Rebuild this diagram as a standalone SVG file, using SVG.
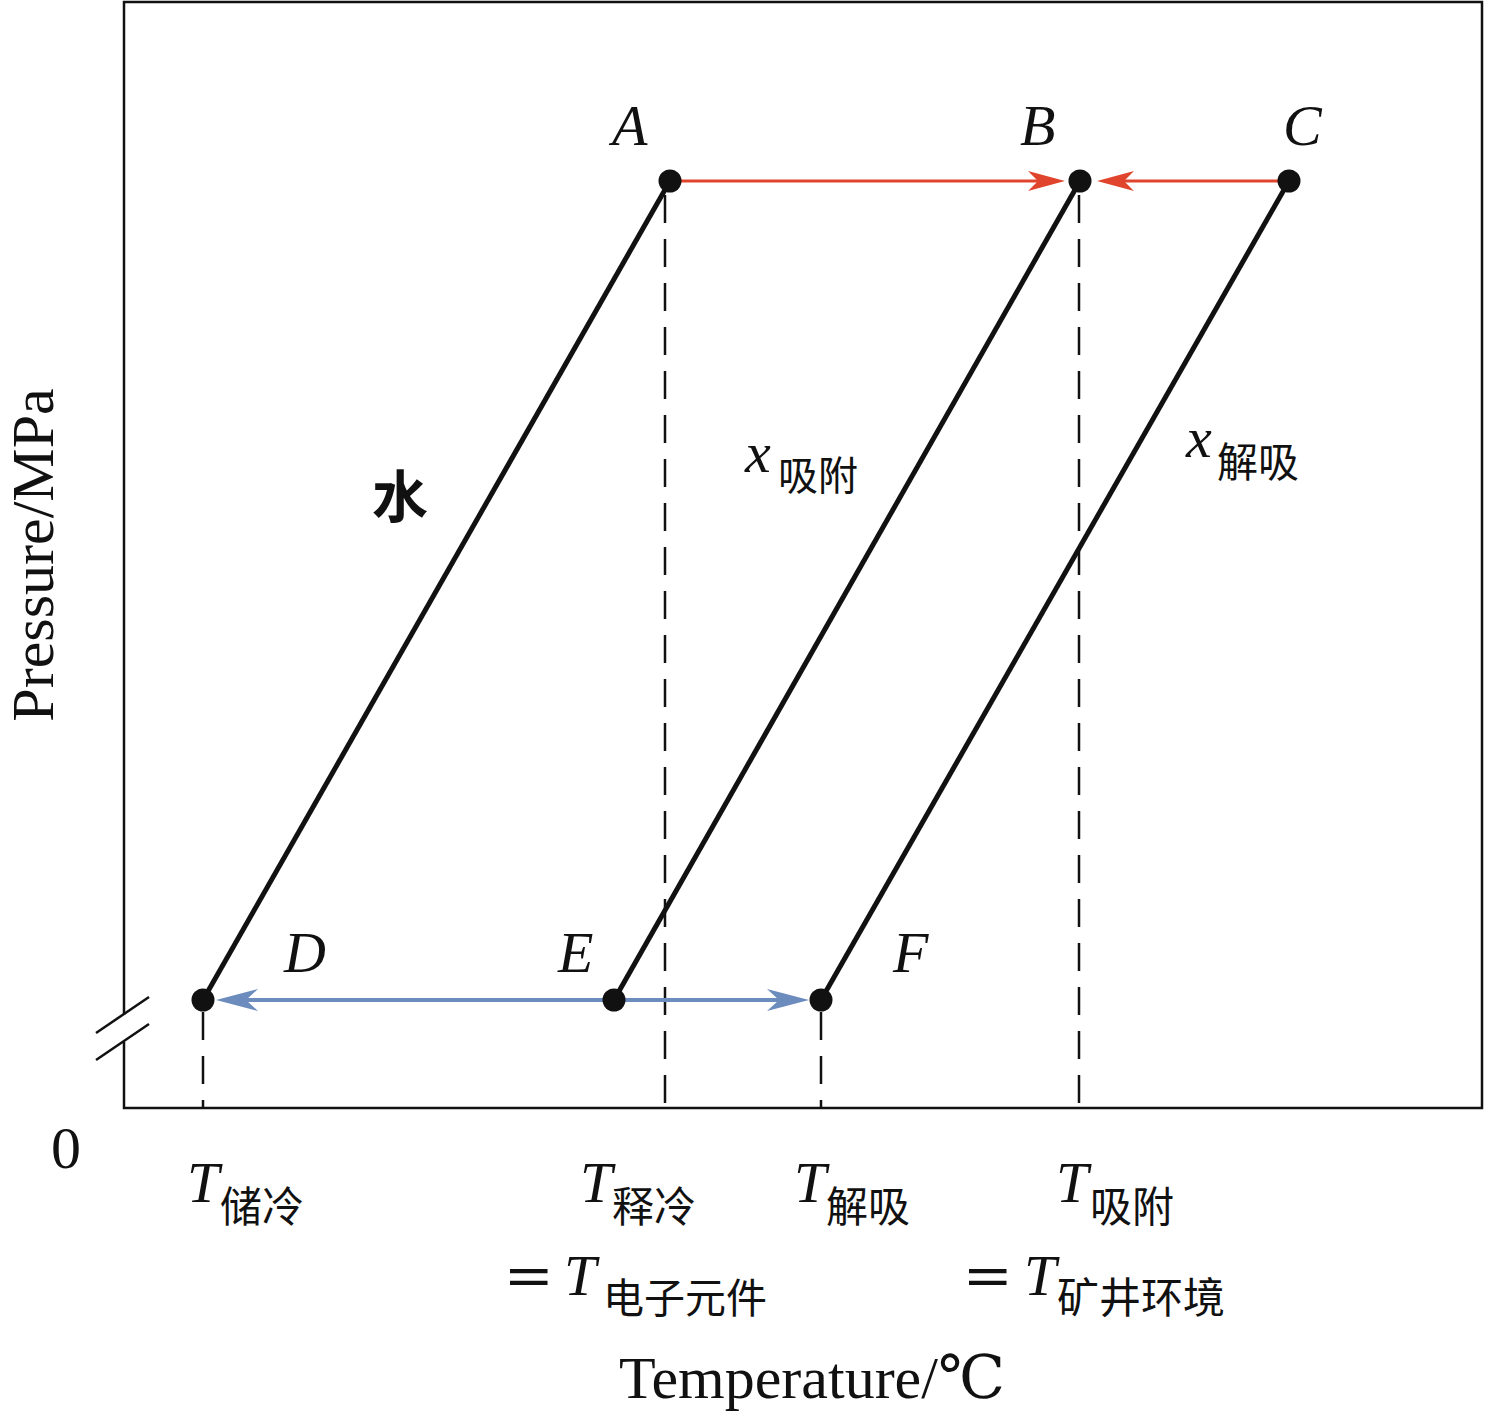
<svg xmlns="http://www.w3.org/2000/svg" width="1486" height="1420" viewBox="0 0 1486 1420">
<style>
.frame{fill:none;stroke:#111;stroke-width:2.5}
.iso{stroke:#111;stroke-width:5;fill:none}
.dash{stroke:#111;stroke-width:2.5;stroke-dasharray:28 16;fill:none}
.red{stroke:#e0442c;stroke-width:3;fill:none}
.blue{stroke:#6d8cbe;stroke-width:4;fill:none}
.dot{fill:#111}
.lbl{font-family:"Liberation Serif","Times New Roman",serif;font-style:italic;font-size:58px;fill:#111}
.cjk{font-family:"Noto Sans CJK SC",sans-serif;font-style:normal;fill:#111}
.ax{font-family:"Liberation Serif","DejaVu Serif","Noto Sans CJK SC",serif;font-size:60px;fill:#111}
</style>
<defs>
<marker id="redHead" markerUnits="userSpaceOnUse" viewBox="-20 -12 42 24" refX="0" refY="0" markerWidth="42" markerHeight="24" orient="auto">
<path d="M20,0 L-17,-10 L-7,0 L-17,10 Z" fill="#e0442c"/>
</marker>
<marker id="blueHead" markerUnits="userSpaceOnUse" viewBox="-24 -13 46 26" refX="0" refY="0" markerWidth="46" markerHeight="26" orient="auto-start-reverse">
<path d="M20,0 L-22,-11 L-10,0 L-22,11 Z" fill="#6d8cbe"/>
</marker>
</defs>
<rect width="1486" height="1420" fill="#fff"/>
<g id="axes">
<path class="frame" d="M124,1015 V2 H1482 V1108 H124 V1042"/>
<line x1="96" y1="1033" x2="149" y2="997" stroke="#111" stroke-width="2.5"/>
<line x1="96" y1="1060" x2="149" y2="1024" stroke="#111" stroke-width="2.5"/>
<text class="ax" x="66" y="1168" text-anchor="middle" font-size="52">0</text>
<text class="ax" transform="translate(53,555) rotate(-90)" text-anchor="middle">Pressure/MPa</text>
<text class="ax" x="812" y="1398" text-anchor="middle">Temperature/℃</text>
</g>
<g id="guides">
<line class="dash" x1="203" y1="1012" x2="203" y2="1108"/>
<line class="dash" x1="665" y1="195" x2="665" y2="1108"/>
<line class="dash" x1="821" y1="1012" x2="821" y2="1108"/>
<line class="dash" x1="1079" y1="195" x2="1079" y2="1108"/>
</g>
<g id="connectors">
<line id="line-water" class="iso" x1="203" y1="1000" x2="670" y2="181"/>
<line id="line-adsorb" class="iso" x1="614" y1="1000" x2="1080" y2="181"/>
<line id="line-desorb" class="iso" x1="821" y1="1000" x2="1289" y2="181"/>
<line id="A-B" class="red" x1="670" y1="181" x2="1045" y2="181" marker-end="url(#redHead)"/>
<line id="C-B" class="red" x1="1289" y1="181" x2="1117" y2="181" marker-end="url(#redHead)"/>
<line id="D-F" class="blue" x1="236" y1="1000" x2="789" y2="1000" marker-start="url(#blueHead)" marker-end="url(#blueHead)"/>
</g>
<g id="node-A"><circle class="dot" cx="670" cy="181" r="11.5"/><text class="lbl" x="612" y="145">A</text></g>
<g id="node-B"><circle class="dot" cx="1080" cy="181" r="11.5"/><text class="lbl" x="1020" y="145">B</text></g>
<g id="node-C"><circle class="dot" cx="1289" cy="181" r="11.5"/><text class="lbl" x="1283" y="145">C</text></g>
<g id="node-D"><circle class="dot" cx="203" cy="1000" r="11.5"/><text class="lbl" x="284" y="972">D</text></g>
<g id="node-E"><circle class="dot" cx="614" cy="1000" r="11.5"/><text class="lbl" x="558" y="972">E</text></g>
<g id="node-F"><circle class="dot" cx="821" cy="1000" r="11.5"/><text class="lbl" x="893" y="972">F</text></g>
<g id="curve-labels">
<text class="cjk" x="372" y="517" font-size="56" font-weight="bold">水</text>
<text class="lbl" x="745" y="472">x<tspan class="cjk" x="778" y="490" font-size="40">吸附</tspan></text>
<text class="lbl" x="1186" y="457">x<tspan class="cjk" x="1217" y="477" font-size="41">解吸</tspan></text>
</g>
<g id="tick-labels">
<text class="lbl" x="187" y="1202">T<tspan class="cjk" x="220" y="1222" font-size="42">储冷</tspan></text>
<text class="lbl" x="580" y="1202">T<tspan class="cjk" x="612" y="1222" font-size="42">释冷</tspan></text>
<text class="lbl" x="794" y="1202">T<tspan class="cjk" x="826" y="1222" font-size="42">解吸</tspan></text>
<text class="lbl" x="1056" y="1202">T<tspan class="cjk" x="1090" y="1222" font-size="42">吸附</tspan></text>
<text class="ax" x="506" y="1296" font-weight="bold" textLength="46" lengthAdjust="spacingAndGlyphs">=</text>
<text class="lbl" x="564" y="1295">T<tspan class="cjk" x="603" y="1313" font-size="41">电子元件</tspan></text>
<text class="ax" x="965" y="1296" font-weight="bold" textLength="46" lengthAdjust="spacingAndGlyphs">=</text>
<text class="lbl" x="1024" y="1295">T<tspan class="cjk" x="1057" y="1313" font-size="42">矿井环境</tspan></text>
</g>
</svg>
